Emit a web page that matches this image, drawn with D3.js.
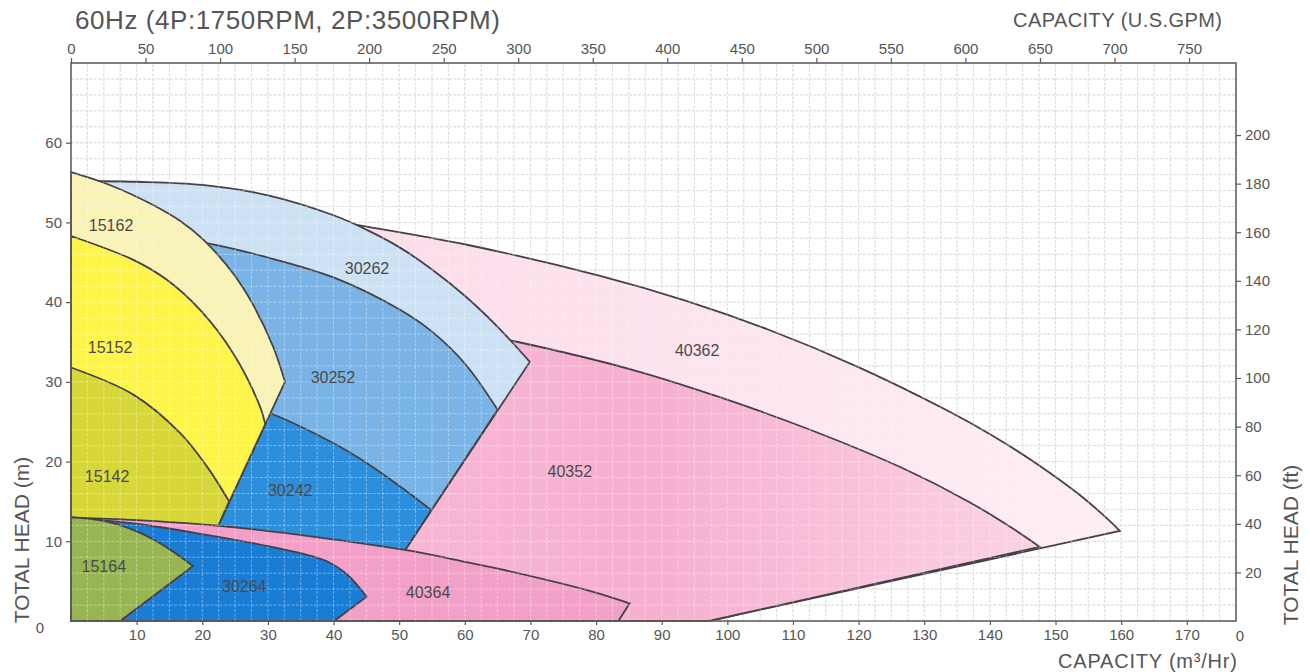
<!DOCTYPE html>
<html>
<head>
<meta charset="utf-8">
<script src="https://cdn.jsdelivr.net/npm/d3@7"></script>
<style>
  html, body { margin: 0; padding: 0; background: #fff; }
  svg { display: block; font-family: "Liberation Sans", Arial, sans-serif; }
</style>
</head>
<body>
<svg id="chart" width="1310" height="672"></svg>
<script>
// Pump selection chart, 60Hz. Capacity in m³/h, total head in m.
const xTicks = [10, 20, 30, 40, 50, 60, 70, 80, 90, 100, 110, 120, 130, 140, 150, 160, 170];
const yTicks = [10, 20, 30, 40, 50, 60];
const gpmTicks = [0, 50, 100, 150, 200, 250, 300, 350, 400, 450, 500, 550, 600, 650, 700, 750];
const ftTicks = [20, 40, 60, 80, 100, 120, 140, 160, 180, 200];
const xMax = 177.5, yMax = 70;
const GPM_PER_M3H = 4.4029, FT_PER_M = 3.2808;

// Head curves [capacity, head] for each model (2-pole: xxxx2, 4-pole: xxxx4)
const curve15162 = [[0,56.3],[5.9,54.7],[12.0,52.4],[16.6,50.2],[20.2,47.8],[24.7,43.6],[27.8,39.6],[30.8,34.4],[32.6,30.0]];
const curve15152 = [[0,48.3],[9.5,45.3],[14.6,42.8],[19.7,39.0],[24.7,33.6],[28.8,26.9],[29.6,24.7]];
const curve15142 = [[0,31.8],[9.5,28.4],[16.6,23.6],[20.7,19.4],[24.1,15.0]];
const curve15164 = [[0,13.0],[5,12.55],[10,11.25],[14,9.55],[18.6,6.9]];

const curve30262 = [[0,55.2],[10,55.1],[20,54.7],[30,53.4],[40,50.9],[45,49.1],[50,46.9],[55,44.1],[60,40.8],[65,36.9],[69.9,32.5]];
const curve30252 = [[0,48.9],[10,48.5],[20,47.5],[30,45.6],[40,43.1],[50,39.1],[55,36.3],[60,32.3],[65.0,26.5]];
const curve30242 = [[0,31.9],[15,30.5],[30.6,26.0],[40.0,22.3],[45.1,19.8],[50.1,16.9],[54.9,13.9]];
const curve30264 = [[0,13.0],[10,12.2],[20,10.9],[30,9.4],[35,8.5],[39,7.5],[42,5.9],[45.05,3.05]];

const curve40362 = [[0,52.6],[20,52.0],[35,50.9],[43.5,49.7],[60.3,47.2],[80.6,43.3],[93.6,40.2],[106.1,36.6],[119.7,31.95],[133.3,26.5],[140.1,23.4],[146.9,19.85],[153.7,15.8],[157.8,12.9],[159.8,11.3]];
const curve40352 = [[0,41.8],[30,39.9],[50,37.9],[68.1,35.0],[85.8,31.45],[99.3,27.95],[112.9,23.9],[126.5,19.25],[136.7,15.0],[143.5,11.6],[147.6,9.3]];
const curve40364 = [[0,13.0],[22.45,11.95],[50.6,8.95],[59.3,7.55],[65.4,6.5],[78.9,3.8],[85.1,2.2]];

// Straight limit lines closing each operating range
const edge1516 = [[22.4,11.9],[22.4,0],[0,0]];
const edge3025 = [[50.9,8.9],[50.9,0],[0,0]];
const edge4035 = [[97.2,0],[0,0]];
const edge40364 = [[83.4,0],[0,0]];
const edge30264 = [[40.1,0],[0,0]];
const edge15164 = [[7.5,0],[0,0]];

const regionNames  = ['40362','40352','30262','30252','30242','15162','15152','15142','40364','30264','15164'];
const regionCurves = [curve40362, curve40352, curve30262, curve30252, curve30242, curve15162, curve15152, curve15142, curve40364, curve30264, curve15164];
const regionEdges  = [edge4035, edge4035, edge3025, edge3025, edge3025, edge1516, edge1516, edge1516, edge40364, edge30264, edge15164];
const regionFills  = ['url(#g40362)','url(#g40352)','#cce1f4','#7ab3e5','#2d8edb','#faf3b8','#fff54a','#d7d73a','#f3a0c8','#1a7dd5','#97b552'];
const labelPos     = [[95.4,33.9],[76.0,18.8],[45.1,44.2],[39.9,30.6],[33.4,16.4],[6.1,49.6],[5.95,34.3],[5.5,18.1],[54.4,3.6],[26.4,4.3],[5.0,6.9]];

const svg = d3.select('#chart');
const x = d3.scaleLinear().domain([0, xMax]).range([71, 1236]);
const y = d3.scaleLinear().domain([0, yMax]).range([621, 63]);
const xGpm = d3.scaleLinear().domain([0, xMax * GPM_PER_M3H]).range(x.range());
const yFt = d3.scaleLinear().domain([0, yMax * FT_PER_M]).range(y.range());

// Pink fills fade toward the high-capacity end
const defs = svg.append('defs');
function gradient(id, q0, q1, stops) {
  const g = defs.append('linearGradient').attr('id', id)
    .attr('gradientUnits', 'userSpaceOnUse')
    .attr('x1', x(q0)).attr('x2', x(q1)).attr('y1', 0).attr('y2', 0);
  stops.forEach(s => g.append('stop').attr('offset', s[0]).attr('stop-color', s[1]));
}
gradient('g40362', 40, 160, [[0, '#fcdcea'], [1, '#feedf4']]);
gradient('g40352', 50, 148, [[0, '#f7b6d4'], [0.4, '#f6b0d0'], [1, '#fbd3e5']]);

// Grid: every 2.5 m³/h and every 2 m
const gridQ = d3.range(0, xMax + 0.01, 2.5);
const gridH = d3.range(0, yMax + 0.01, 2);
function drawGrid(cls, color, opacity) {
  const g = svg.append('g').attr('class', cls)
    .attr('stroke', color).attr('stroke-opacity', opacity)
    .attr('stroke-width', 0.9).attr('stroke-dasharray', '3,1.5');
  g.selectAll('line.v').data(gridQ).join('line').attr('class', 'v')
    .attr('x1', d => x(d)).attr('x2', d => x(d)).attr('y1', y(0)).attr('y2', y(yMax));
  g.selectAll('line.h').data(gridH).join('line').attr('class', 'h')
    .attr('y1', d => y(d)).attr('y2', d => y(d)).attr('x1', x(0)).attr('x2', x(xMax));
}
drawGrid('grid', '#c4c4c4', 1);

// Operating ranges, drawn back to front
const curveGen = d3.line().x(d => x(d[0])).y(d => y(d[1])).curve(d3.curveCatmullRom.alpha(0.5));
function regionPath(curve, edge) {
  let p = curveGen(curve);
  edge.forEach(pt => { p += 'L' + x(pt[0]) + ',' + y(pt[1]); });
  return p + 'Z';
}
const regions = regionNames.map((n, i) => ({ name: n, curve: regionCurves[i], edge: regionEdges[i], fill: regionFills[i], label: labelPos[i] }));
svg.append('g').selectAll('path').data(regions).join('path')
  .attr('d', d => regionPath(d.curve, d.edge))
  .attr('fill', d => d.fill)
  .attr('stroke', '#454046').attr('stroke-width', 1.8).attr('stroke-linejoin', 'miter');

drawGrid('grid-light', '#ffffff', 0.42);

// Model labels
svg.append('g').selectAll('text').data(regions).join('text')
  .attr('x', d => x(d.label[0])).attr('y', d => y(d.label[1]))
  .attr('text-anchor', 'middle').attr('dy', '0.35em')
  .attr('font-size', 16).attr('fill', '#4a4a4a')
  .text(d => d.name);

// Frame
svg.append('rect').attr('x', x(0)).attr('y', y(yMax))
  .attr('width', x(xMax) - x(0)).attr('height', y(0) - y(yMax))
  .attr('fill', 'none').attr('stroke', '#5a5a5a').attr('stroke-width', 1.5);

function styleAxis(g) {
  g.select('.domain').remove();
  g.selectAll('.tick line').attr('stroke', '#5a5a5a').attr('stroke-width', 1.2);
  g.selectAll('.tick text').attr('fill', '#555').attr('font-size', 15)
    .attr('font-family', '"Liberation Sans", Arial, sans-serif');
}
svg.append('g').attr('transform', `translate(0,${y(0)})`)
  .call(d3.axisBottom(x).tickValues(xTicks).tickSize(4).tickPadding(4)).call(styleAxis);
svg.append('g').attr('transform', `translate(${x(0)},0)`)
  .call(d3.axisLeft(y).tickValues(yTicks).tickSize(5).tickPadding(4)).call(styleAxis);
svg.append('g').attr('transform', `translate(0,${y(yMax)})`)
  .call(d3.axisTop(xGpm).tickValues(gpmTicks).tickSize(5).tickPadding(4)).call(styleAxis);
svg.append('g').attr('transform', `translate(${x(xMax)},0)`)
  .call(d3.axisRight(yFt).tickValues(ftTicks).tickSize(5).tickPadding(4)).call(styleAxis);

// Corner zeros
svg.append('text').attr('x', x(0) - 31).attr('y', y(0) + 7).attr('dy', '0.35em')
  .attr('text-anchor', 'middle').attr('font-size', 15).attr('fill', '#555').text('0');
svg.append('text').attr('x', x(xMax) + 4).attr('y', y(0) + 15).attr('dy', '0.35em')
  .attr('text-anchor', 'middle').attr('font-size', 15).attr('fill', '#555').text('0');

// Titles
svg.append('text').attr('x', 75).attr('y', 29).attr('font-size', 26).attr('fill', '#555')
  .attr('textLength', 425).attr('lengthAdjust', 'spacing')
  .text('60Hz (4P:1750RPM,  2P:3500RPM)');
svg.append('text').attr('x', 1013).attr('y', 27)
  .attr('font-size', 20).attr('fill', '#555')
  .attr('textLength', 209).attr('lengthAdjust', 'spacing')
  .text('CAPACITY (U.S.GPM)');
svg.append('text').attr('x', 1058).attr('y', 668)
  .attr('font-size', 20).attr('fill', '#555')
  .attr('textLength', 179).attr('lengthAdjust', 'spacing')
  .text('CAPACITY (m³/Hr)');
svg.append('text').attr('transform', 'translate(29,540) rotate(-90)')
  .attr('text-anchor', 'middle').attr('font-size', 21).attr('fill', '#555')
  .text('TOTAL HEAD (m)');
svg.append('text').attr('transform', 'translate(1298,545) rotate(-90)')
  .attr('text-anchor', 'middle').attr('font-size', 21).attr('fill', '#555')
  .text('TOTAL HEAD (ft)');
</script>
</body>
</html>
